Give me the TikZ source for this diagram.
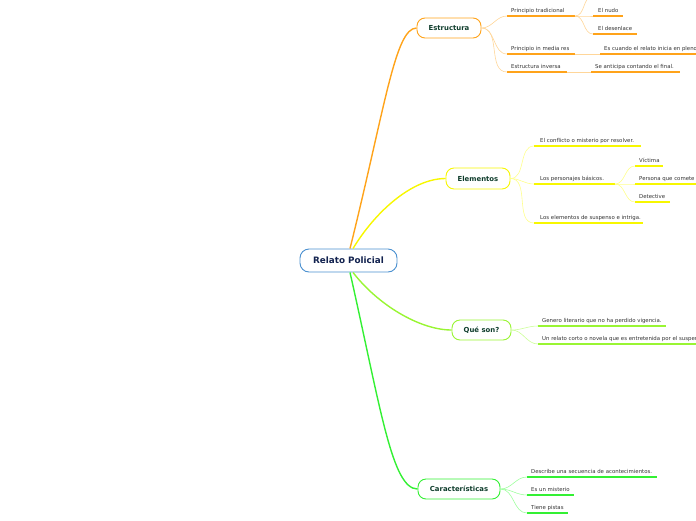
\documentclass[tikz,border=0pt]{standalone}
\usepackage{fontspec}
\setmainfont{DejaVu Sans}
\definecolor{corange}{HTML}{FFA31A}
\definecolor{corangel}{HTML}{FFD699}
\definecolor{cyellow}{HTML}{F7F700}
\definecolor{cyellowl}{HTML}{FFFF8C}
\definecolor{clime}{HTML}{99F533}
\definecolor{climel}{HTML}{CCFF99}
\definecolor{cgreen}{HTML}{33F033}
\definecolor{cgreenl}{HTML}{A0FFA0}
\definecolor{cblue}{HTML}{4A90D0}
\definecolor{topictext}{HTML}{0F3D2C}
\definecolor{roottext}{HTML}{12224F}
\definecolor{subtext}{HTML}{333333}
\tikzset{
  rootbox/.style={draw=cblue, line width=0.9pt, fill=white, rounded corners=9pt,
    minimum width=97pt, minimum height=23pt, inner sep=0pt,
    font=\fontsize{8.8}{10}\selectfont\bfseries, text=roottext},
  topicbox/.style={line width=0.9pt, fill=white, rounded corners=8pt,
    minimum height=20pt, inner sep=0pt,
    font=\fontsize{6.9}{8}\selectfont\bfseries, text=topictext},
  subtxt/.style={inner sep=0pt, anchor=base west, text=subtext,
    font=\fontsize{5.4}{6}\selectfont},
  mainline/.style={line width=1.4pt},
  subline/.style={line width=0.6pt},
  uline/.style={line width=1.3pt}
}
\begin{document}
\begin{tikzpicture}[x=1pt,y=-1pt]
\useasboundingbox (0,0) rectangle (696,520);

% topics
\node[rootbox] (root) at (348.5,260.5) {Relato Policial};
\node[topicbox, draw=corange, minimum width=64pt] (estr) at (449,28) {Estructura};
\node[topicbox, draw=cyellow, minimum width=64pt, minimum height=21pt] (elem) at (478,178.5) {Elementos};
\node[topicbox, draw=clime, minimum width=59pt] (que) at (481.5,330) {Qué son?};
\node[topicbox, draw=cgreen, minimum width=82pt] (car) at (459,489) {Características};

% main connectors
\draw[mainline, corange] ([xshift=1.5pt]root.north) .. controls (385,108) and (395,28) .. (estr.west);
\draw[mainline, cyellow] ([xshift=4.5pt]root.north) .. controls (375,212) and (412,178.5) .. (elem.west);
\draw[mainline, clime] ([xshift=4.5pt]root.south) .. controls (378,305) and (420,330) .. (que.west);
\draw[mainline, cgreen] ([xshift=1.5pt]root.south) .. controls (381,410) and (392,489) .. (car.west);

% ---------- Estructura ----------
\coordinate (a1s) at (507,16); \coordinate (a1e) at (575,16);
\coordinate (a2s) at (507,54); \coordinate (a2e) at (575,54);
\coordinate (a3s) at (507,72); \coordinate (a3e) at (567,72);
\coordinate (b0s) at (593,-4);
\coordinate (b1s) at (593,16); \coordinate (b1e) at (623,16);
\coordinate (b2s) at (593,34); \coordinate (b2e) at (637,34);
\coordinate (b3s) at (600,54); \coordinate (b3e) at (700,54);
\coordinate (b4s) at (591,72); \coordinate (b4e) at (680,72);
\node[subtxt] (a1) at (511,12) {Principio tradicional};
\node[subtxt] (a2) at (511,50) {Principio in media res};
\node[subtxt] (a3) at (511,68) {Estructura inversa};
\node[subtxt] (b1) at (598,12) {El nudo};
\node[subtxt] (b2) at (598,30) {El desenlace};
\node[subtxt] (b3) at (604,50) {Es cuando el relato inicia en pleno};
\node[subtxt] (b4) at (595,68) {Se anticipa contando el final.};
\foreach \s/\e in {a1s/a1e,a2s/a2e,a3s/a3e,b1s/b1e,b2s/b2e,b3s/b3e,b4s/b4e}
  \draw[uline, corange] (\s) -- (\e);
\foreach \t in {a1s,a2s,a3s}
  \draw[subline, corangel] (estr.east) to[out=0,in=180] (\t);
\foreach \t in {b0s,b1s,b2s}
  \draw[subline, corangel] (a1e) to[out=0,in=180] (\t);
\draw[subline, corangel] (a2e) -- (b3s);
\draw[subline, corangel] (a3e) -- (b4s);

% ---------- Elementos ----------
\coordinate (c1s) at (534,146); \coordinate (c1e) at (641,146);
\coordinate (c2s) at (534,184); \coordinate (c2e) at (615,184);
\coordinate (c3s) at (534,223); \coordinate (c3e) at (643,223);
\coordinate (d1s) at (635,166); \coordinate (d1e) at (663,166);
\coordinate (d2s) at (635,184); \coordinate (d2e) at (700,184);
\coordinate (d3s) at (635,202); \coordinate (d3e) at (670,202);
\node[subtxt] (c1) at (540,142) {El conflicto o misterio por resolver.};
\node[subtxt] (c2) at (540,180) {Los personajes básicos.};
\node[subtxt] (c3) at (540,219) {Los elementos de suspenso e intriga.};
\node[subtxt] (d1) at (639,162) {Víctima};
\node[subtxt] (d2) at (639,180) {Persona que comete};
\node[subtxt] (d3) at (639,198) {Detective};
\foreach \s/\e in {c1s/c1e,c2s/c2e,c3s/c3e,d1s/d1e,d2s/d2e,d3s/d3e}
  \draw[uline, cyellow] (\s) -- (\e);
\foreach \t in {c1s,c2s,c3s}
  \draw[subline, cyellowl] (elem.east) to[out=0,in=180] (\t);
\foreach \t in {d1s,d2s,d3s}
  \draw[subline, cyellowl] (c2e) to[out=0,in=180] (\t);

% ---------- Qué son ----------
\coordinate (e1s) at (538,326); \coordinate (e1e) at (666,326);
\coordinate (e2s) at (538,344); \coordinate (e2e) at (700,344);
\node[subtxt] (e1) at (542,322) {Genero literario que no ha perdido vigencia.};
\node[subtxt] (e2) at (542,340) {Un relato corto o novela que es entretenida por el suspenso};
\foreach \s/\e in {e1s/e1e,e2s/e2e}
  \draw[uline, clime] (\s) -- (\e);
\foreach \t in {e1s,e2s}
  \draw[subline, climel] (que.east) to[out=0,in=180] (\t);

% ---------- Características ----------
\coordinate (f1s) at (527,477); \coordinate (f1e) at (657,477);
\coordinate (f2s) at (527,495); \coordinate (f2e) at (574,495);
\coordinate (f3s) at (527,513); \coordinate (f3e) at (568,513);
\node[subtxt] (f1) at (531,473) {Describe una secuencia de acontecimientos.};
\node[subtxt] (f2) at (531,491) {Es un misterio};
\node[subtxt] (f3) at (531,509) {Tiene pistas};
\foreach \s/\e in {f1s/f1e,f2s/f2e,f3s/f3e}
  \draw[uline, cgreen] (\s) -- (\e);
\foreach \t in {f1s,f2s,f3s}
  \draw[subline, cgreenl] (car.east) to[out=0,in=180] (\t);
\end{tikzpicture}
\end{document}
